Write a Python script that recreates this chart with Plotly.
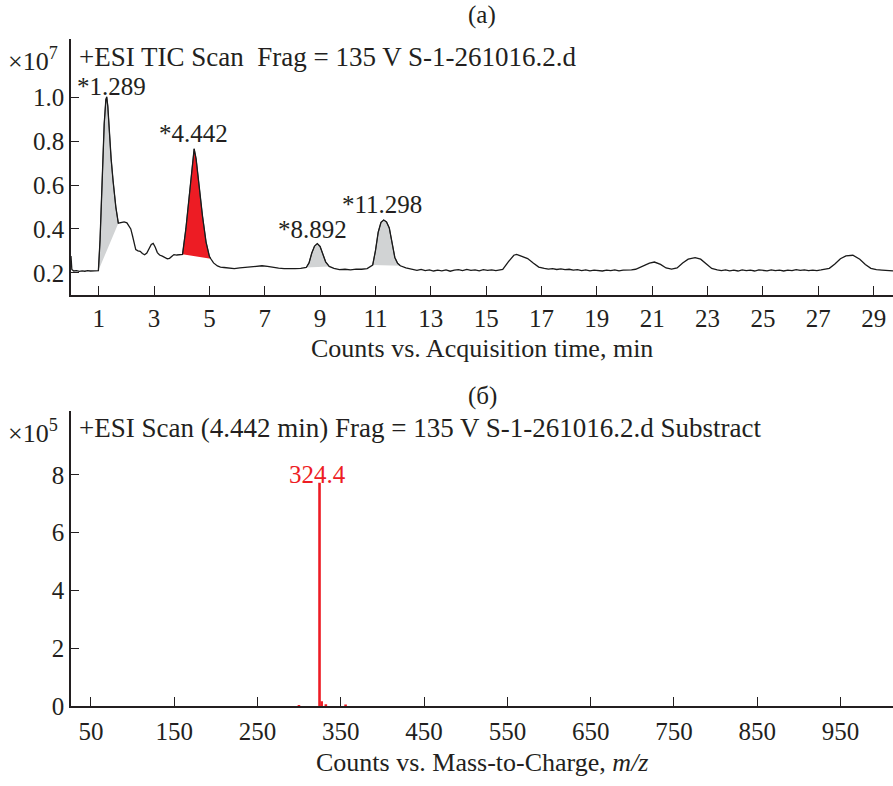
import plotly.graph_objects as go

# ---------------- data ----------------
# (a) TIC chromatogram, counts x10^7 vs acquisition time (min)
tic_time = [0.00, 0.03, 0.10, 0.20, 0.30, 0.40, 0.50, 0.60, 0.70, 0.80, 0.90, 0.99,
            1.05, 1.12, 1.20, 1.26, 1.29, 1.33, 1.38, 1.45, 1.52, 1.62, 1.71,
            1.80, 1.92, 2.02, 2.10, 2.16, 2.22, 2.28, 2.34, 2.42, 2.50, 2.58, 2.66,
            2.74, 2.82, 2.90, 2.97, 3.04, 3.12, 3.20, 3.30, 3.40, 3.48, 3.56, 3.64,
            3.72, 3.82, 3.92, 4.03, 4.15, 4.28, 4.38, 4.45, 4.52, 4.62, 4.75, 4.88,
            5.00, 5.05, 5.15, 5.29, 5.40, 5.53, 5.70, 5.90, 6.10, 6.30, 6.50, 6.70,
            6.90, 7.10, 7.30, 7.50, 7.70, 7.90, 8.10, 8.30, 8.50, 8.60, 8.70, 8.80,
            8.90, 9.00, 9.10, 9.20, 9.33, 9.50, 9.70, 9.90, 10.10, 10.30, 10.50,
            10.70, 10.90, 11.00, 11.10, 11.20, 11.30, 11.40, 11.50, 11.60, 11.70,
            11.80, 11.90, 12.10,
            12.34, 12.50, 12.65, 12.80, 12.95, 13.10, 13.25, 13.40, 13.55, 13.70, 13.85, 14.00,
            14.15, 14.30, 14.45, 14.60, 14.75, 14.90, 15.05, 15.20, 15.35, 15.50, 15.60,
            15.80, 16.00, 16.10, 16.30, 16.50, 16.70, 16.90,
            17.10, 17.25, 17.40, 17.55, 17.70, 17.85, 18.00, 18.15, 18.30, 18.45, 18.60, 18.75,
            18.90, 19.05, 19.20, 19.35, 19.50, 19.65, 19.80, 19.95, 20.10, 20.25, 20.40,
            20.70, 20.90, 21.08, 21.30, 21.50, 21.70, 21.90, 22.10, 22.30, 22.55, 22.75, 22.95, 23.15,
            23.35, 23.50, 23.65, 23.80, 23.95, 24.10, 24.25, 24.40, 24.55, 24.70, 24.85, 25.00,
            25.15, 25.30, 25.45, 25.60, 25.75, 25.90, 26.05, 26.20, 26.35, 26.50, 26.65, 26.80,
            26.95, 27.10, 27.25,
            27.40, 27.60, 27.80, 28.00, 28.25, 28.50, 28.70, 28.90, 29.10, 29.30, 29.50, 29.70]
tic_counts = [0.276, 0.215, 0.208, 0.210, 0.206, 0.209, 0.207, 0.210, 0.208, 0.209, 0.208, 0.210,
              0.35, 0.60, 0.88, 0.99, 1.003, 0.96, 0.84, 0.72, 0.62, 0.50, 0.426,
              0.428, 0.432, 0.428, 0.415, 0.40, 0.37, 0.336, 0.306, 0.300, 0.298, 0.288, 0.282,
              0.290, 0.310, 0.329, 0.334, 0.318, 0.292, 0.281, 0.276, 0.268, 0.264, 0.266, 0.274,
              0.283, 0.281, 0.282, 0.284, 0.40, 0.56, 0.70, 0.766, 0.72, 0.60, 0.46, 0.34,
              0.275, 0.264, 0.245, 0.231, 0.226, 0.224, 0.222, 0.219, 0.222, 0.224, 0.226, 0.229,
              0.232, 0.229, 0.224, 0.221, 0.219, 0.218, 0.219, 0.220, 0.224, 0.245, 0.290, 0.322,
              0.333, 0.320, 0.285, 0.250, 0.229, 0.220, 0.214, 0.216, 0.213, 0.217, 0.216,
              0.219, 0.235, 0.300, 0.385, 0.430, 0.441, 0.432, 0.405, 0.330, 0.270,
              0.243, 0.232, 0.222,
              0.214, 0.211, 0.215, 0.210, 0.213, 0.208, 0.212, 0.209, 0.213, 0.207, 0.212, 0.214,
              0.210, 0.215, 0.211, 0.213, 0.209, 0.214, 0.211, 0.213, 0.210, 0.214, 0.215,
              0.250, 0.280, 0.284, 0.276, 0.265, 0.245, 0.226,
              0.220, 0.217, 0.219, 0.215, 0.218, 0.214, 0.216, 0.212, 0.214, 0.210, 0.213, 0.209,
              0.212, 0.211, 0.208, 0.212, 0.210, 0.213, 0.209, 0.212, 0.211, 0.213, 0.216,
              0.232, 0.244, 0.249, 0.238, 0.222, 0.217, 0.222, 0.245, 0.262, 0.269, 0.262, 0.240, 0.220,
              0.213, 0.210, 0.213, 0.209, 0.212, 0.208, 0.213, 0.210, 0.212, 0.208, 0.213, 0.210,
              0.209, 0.213, 0.210, 0.212, 0.208, 0.212, 0.210, 0.214, 0.211, 0.213, 0.210, 0.212,
              0.210, 0.213, 0.215,
              0.220, 0.240, 0.264, 0.277, 0.280, 0.262, 0.238, 0.220, 0.214, 0.212, 0.210, 0.209]

# integrated peaks: label, start, end (min)
peak_labels = ["*1.289", "*4.442", "*8.892", "*11.298"]
peak_start = [0.99, 4.03, 8.50, 10.90]
peak_end = [1.71, 5.05, 9.33, 11.90]
peak_fill = ["#d1d3d4", "#ed1c24", "#d1d3d4", "#d1d3d4"]
peak_label_t = [1.45, 4.41, 8.72, 11.25]
peak_label_v = [1.05, 0.838, 0.398, 0.51]

tic_ticks = [1, 3, 5, 7, 9, 11, 13, 15, 17, 19, 21, 23, 25, 27, 29]
tic_yticks = [0.2, 0.4, 0.6, 0.8, 1.0]
tic_yticktext = ["0.2", "0.4", "0.6", "0.8", "1.0"]

# (б) mass spectrum, counts x10^5 vs m/z
ms_mz = [299.7, 324.4, 327.0, 332.0, 355.7]
ms_int = [0.04, 7.72, 0.17, 0.07, 0.06]
ms_ticks = [50, 150, 250, 350, 450, 550, 650, 750, 850, 950]
ms_yticks = [0, 2, 4, 6, 8]

# ---------------- figure ----------------
W, H = 893, 786
FONT = "Liberation Serif, Times New Roman, serif"
TXT = "#231f20"


def px(x):
    return x / W


def py(y):
    return 1 - y / H


fig = go.Figure()

# filled integrated peaks
for lab, s, e, col in zip(peak_labels, peak_start, peak_end, peak_fill):
    xs = [t for t in tic_time if s <= t <= e]
    ys = [v for t, v in zip(tic_time, tic_counts) if s <= t <= e]
    fig.add_trace(go.Scatter(x=xs, y=ys, fill="toself", fillcolor=col,
                             line=dict(color="#4d4d4f", width=1), mode="lines",
                             hoverinfo="skip", xaxis="x", yaxis="y"))

fig.add_trace(go.Scatter(x=tic_time, y=tic_counts, mode="lines",
                         line=dict(color="#1a1a1a", width=1.3),
                         xaxis="x", yaxis="y"))

# mass spectrum sticks
sx, sy = [], []
for m, i in zip(ms_mz, ms_int):
    sx += [m, m, None]
    sy += [0, i, None]
fig.add_trace(go.Scatter(x=sx, y=sy, mode="lines",
                         line=dict(color="#ed1c24", width=2.6),
                         xaxis="x2", yaxis="y2"))

axis_common = dict(showline=True, linecolor="#231f20", linewidth=1.5,
                   ticks="inside", tickcolor="#231f20", tickwidth=1.3,
                   showgrid=False, zeroline=False,
                   tickfont=dict(family=FONT, size=25, color=TXT))

fig.update_layout(
    width=W, height=H, autosize=False,
    margin=dict(l=0, r=0, t=0, b=0),
    paper_bgcolor="white", plot_bgcolor="white",
    showlegend=False,
    xaxis=dict(domain=[px(71), 1], range=[0, 29.7], tickvals=tic_ticks,
               ticklen=9, ticklabelstandoff=1, anchor="y", **axis_common),
    yaxis=dict(domain=[py(300), py(40)], range=[0.100, 1.266],
               tickvals=tic_yticks, ticktext=tic_yticktext, ticklen=8,
               anchor="x", **axis_common),
    xaxis2=dict(domain=[px(71), 1], range=[26, 1013], tickvals=ms_ticks,
                ticklen=9, ticklabelstandoff=2, anchor="y2", **axis_common),
    yaxis2=dict(domain=[py(719), py(418)], range=[0, 10.22],
                tickvals=ms_yticks, ticklen=8, anchor="x2", **axis_common),
)

ann = []


def text(x, y, s, size=26, color=TXT, xanchor="center", xref="paper", yref="paper", yanchor="middle"):
    ann.append(dict(x=x, y=y, text=s, showarrow=False, xref=xref, yref=yref,
                    xanchor=xanchor, yanchor=yanchor,
                    font=dict(family=FONT, size=size, color=color)))


text(px(482), py(15), "(а)", size=25)
text(px(482), py(403), "(б)", size=25)
text(px(6), py(61), "×10<sup>7</sup>", xanchor="left", size=26)
text(px(6), py(439), "×10<sup>5</sup>", xanchor="left", size=26)
text(px(77), py(58), "+ESI TIC Scan  Frag = 135 V S-1-261016.2.d", xanchor="left", size=27)
text(px(77), py(436), "+ESI Scan (4.442 min) Frag = 135 V S-1-261016.2.d Substract", xanchor="left", size=27)
text(px(482), py(355), "Counts vs. Acquisition time, min")
text(px(482), py(776), "Counts vs. Mass-to-Charge, <i>m/z</i>")

for lab, t, v in zip(peak_labels, peak_label_t, peak_label_v):
    text(t, v, lab, size=25, xref="x", yref="y")

text(322.5, 8.01, "324.4", size=25, color="#ed1c24", xref="x2", yref="y2")

fig.update_layout(annotations=ann)

fig.write_html("out.html", config={"displayModeBar": False, "responsive": False},
               post_script="document.body.style.margin='0px';")
